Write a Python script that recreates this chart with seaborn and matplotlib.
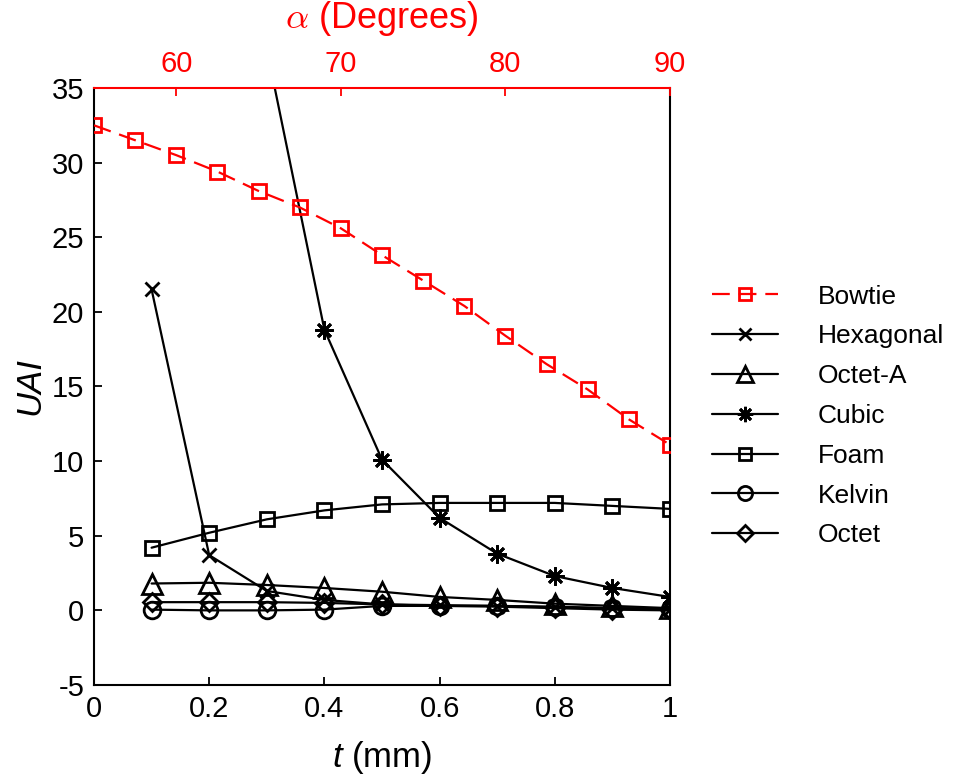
import matplotlib
matplotlib.use("Agg")
import matplotlib.pyplot as plt
import seaborn as sns
import pandas as pd

# ---- data ----
t_mm = [0.1, 0.2, 0.3, 0.4, 0.5, 0.6, 0.7, 0.8, 0.9, 1.0]
hexagonal = [21.5, 3.7, 1.3, 0.7, 0.4, 0.35, 0.3, 0.2, 0.15, 0.1]
octet_a = [1.8, 1.85, 1.7, 1.5, 1.25, 0.9, 0.7, 0.45, 0.3, 0.15]
cubic_t = [0.3, 0.4, 0.5, 0.6, 0.7, 0.8, 0.9, 1.0]
cubic = [37.6, 18.8, 10.1, 6.2, 3.8, 2.3, 1.5, 0.9]
foam = [4.2, 5.2, 6.1, 6.7, 7.1, 7.2, 7.2, 7.2, 7.0, 6.8]
kelvin = [0.05, 0.0, 0.0, 0.05, 0.3, 0.3, 0.3, 0.25, 0.15, 0.1]
octet = [0.55, 0.55, 0.55, 0.5, 0.4, 0.3, 0.25, 0.15, 0.05, 0.0]
alpha_deg = [55, 57.5, 60, 62.5, 65, 67.5, 70, 72.5, 75, 77.5, 80, 82.5, 85, 87.5, 90]
bowtie = [32.5, 31.5, 30.5, 29.4, 28.1, 27.0, 25.6, 23.8, 22.1, 20.4, 18.4, 16.5, 14.8, 12.8, 11.1]

x_ticks = [0, 0.2, 0.4, 0.6, 0.8, 1]
x_ticklabels = ["0", "0.2", "0.4", "0.6", "0.8", "1"]
y_ticks = [-5, 0, 5, 10, 15, 20, 25, 30, 35]
top_ticks = [60, 70, 80, 90]

sns.set_style("ticks")
plt.rcParams["font.family"] = ["Liberation Sans", "DejaVu Sans"]
plt.rcParams["mathtext.fontset"] = "custom"
plt.rcParams["mathtext.it"] = "Liberation Sans:italic"
plt.rcParams["mathtext.rm"] = "Liberation Sans"
plt.rcParams["text.color"] = "black"
plt.rcParams["axes.labelcolor"] = "black"
plt.rcParams["xtick.color"] = "black"
plt.rcParams["ytick.color"] = "black"

fig = plt.figure(figsize=(9.61, 7.77), dpi=100)
ax = fig.add_axes([94 / 961, 92 / 777, 576 / 961, 597 / 777])

lw = 1.6
mew = 2.0
common = dict(color="black", linewidth=lw, markeredgewidth=mew,
              markerfacecolor="none", markeredgecolor="black")

series = [
    ("Hexagonal", t_mm, hexagonal, "x", 10),
    ("Octet-A", t_mm, octet_a, "^", 14),
    ("Cubic", cubic_t, cubic, (8, 2, 0), 13),
    ("Foam", t_mm, foam, "s", 10),
    ("Kelvin", t_mm, kelvin, "o", 12),
    ("Octet", t_mm, octet, "D", 9),
]
for name, xs, ys, mk, ms in series:
    df = pd.DataFrame({"t": xs, "v": ys})
    sns.lineplot(data=df, x="t", y="v", ax=ax, marker=mk, markersize=ms,
                 label=name, legend=False, **common)

ax.set_xlim(0, 1)
ax.set_ylim(-5, 35)
ax.set_xticks(x_ticks)
ax.set_xticklabels(x_ticklabels)
ax.set_yticks(y_ticks)
ax.set_yticklabels([str(v) for v in y_ticks])
ax.tick_params(axis="both", direction="in", length=6, width=1.3, labelsize=21,
               colors="black", pad=7)
ax.tick_params(axis="x", top=False)
ax.tick_params(axis="y", right=False)
for s in ["left", "bottom", "right"]:
    ax.spines[s].set_linewidth(1.5)
    ax.spines[s].set_color("black")
ax.spines["top"].set_visible(False)
ax.set_xlabel("$t$ (mm)", fontsize=25, labelpad=12)
ax.set_ylabel("UAI", fontsize=25, style="italic", labelpad=4)

ax2 = ax.twiny()
dfb = pd.DataFrame({"a": alpha_deg, "v": bowtie})
sns.lineplot(data=dfb, x="a", y="v", ax=ax2, marker="s", markersize=10,
             color="red", linewidth=lw, linestyle=(0, (8, 4)),
             markeredgewidth=mew, markerfacecolor="none",
             markeredgecolor="red", label="Bowtie", legend=False)
ax2.set_xlim(55, 90)
ax2.set_ylim(-5, 35)
ax2.set_xticks(top_ticks)
ax2.set_xticklabels([str(v) for v in top_ticks])
ax2.tick_params(axis="x", direction="in", length=6, width=1.3, labelsize=21,
                colors="red", pad=7)
ax2.set_xlabel(r"$\alpha$ (Degrees)", fontsize=26, color="red", labelpad=16,
               math_fontfamily="cm")
for s in ["left", "bottom", "right"]:
    ax2.spines[s].set_visible(False)
ax2.spines["top"].set_color("red")
ax2.spines["top"].set_linewidth(1.5)

h1, l1 = ax.get_legend_handles_labels()
h2, l2 = ax2.get_legend_handles_labels()
handles = h2 + h1
labels = l2 + l1
leg = fig.legend(handles, labels, loc="center left",
                 bbox_to_anchor=(712 / 961, 1 - 416 / 777),
                 frameon=False, fontsize=19, handlelength=2.5,
                 handletextpad=1.5, labelspacing=0.6, borderpad=0,
                 borderaxespad=0, markerscale=0.85)
for txt in leg.get_texts():
    txt.set_color("black")

fig.savefig("out.png", dpi=100)
